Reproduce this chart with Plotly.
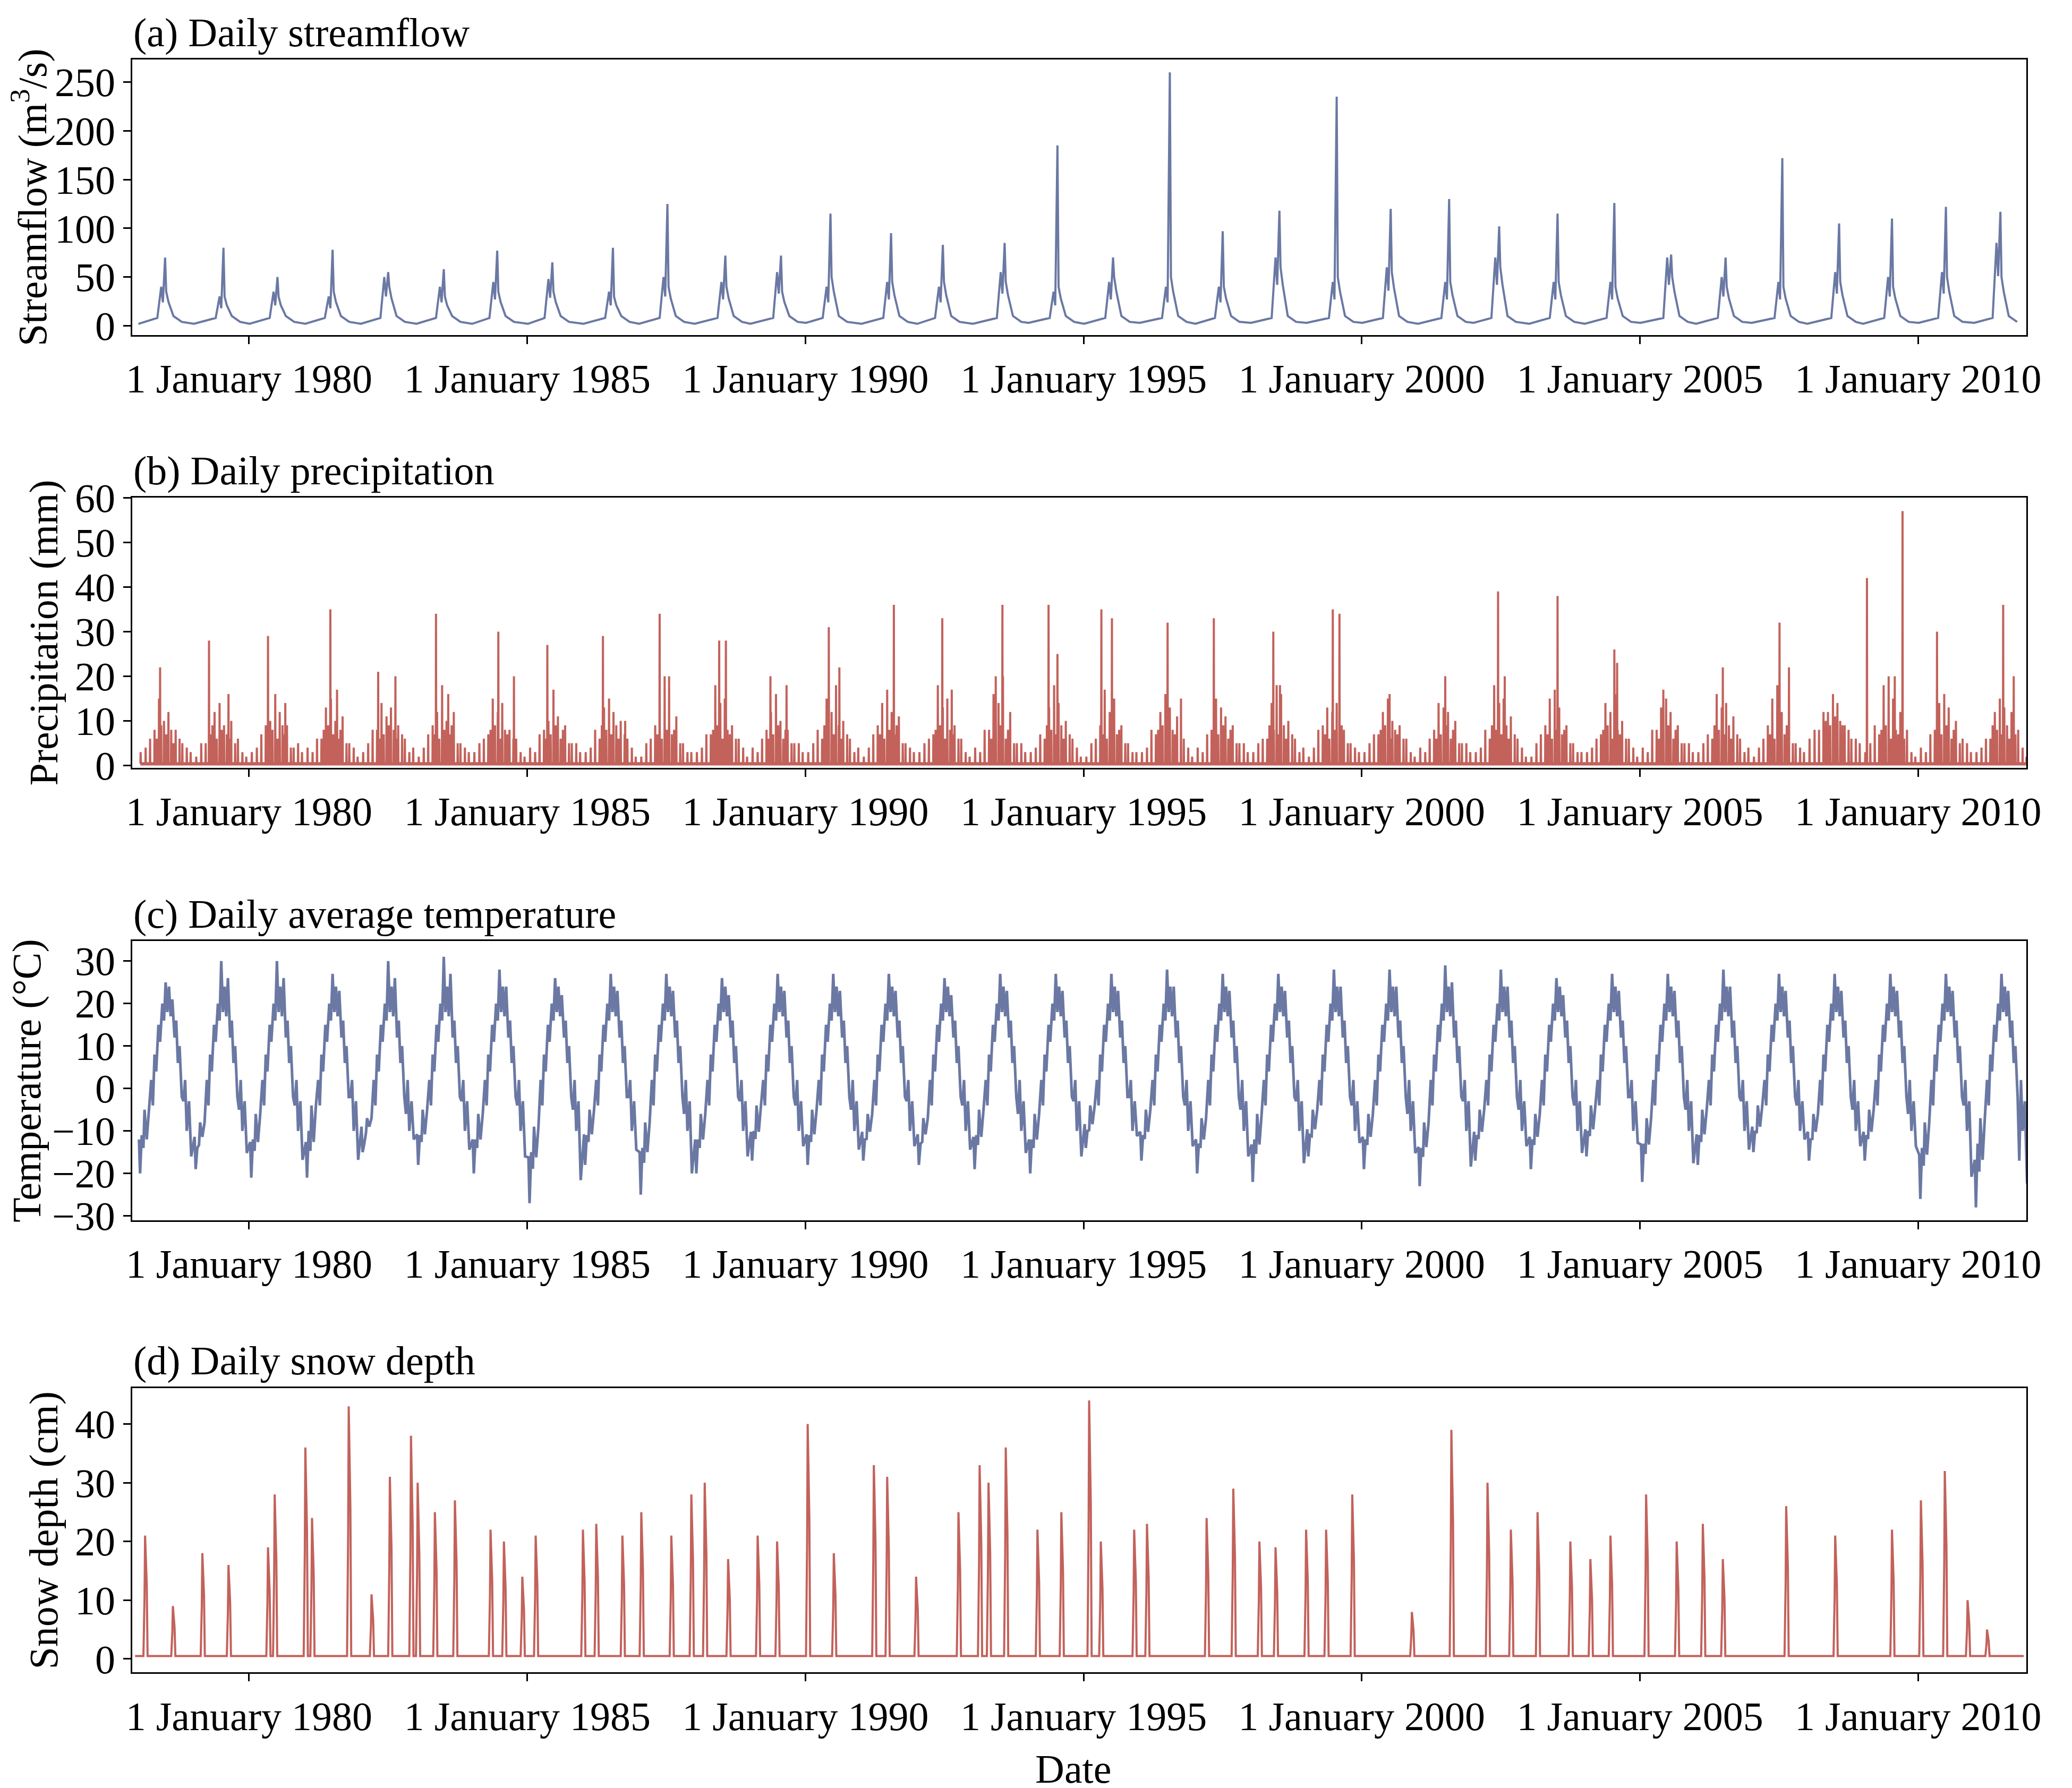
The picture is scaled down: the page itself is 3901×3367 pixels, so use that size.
import plotly.graph_objects as go
import pandas as pd

# ---------------- data ----------------
years = list(range(1978, 2012))
sf_peak_t = [1978.49,1979.54,1980.51,1981.50,1982.50,1983.50,1984.46,1985.45,1986.54,1987.52,
             1988.56,1989.56,1990.45,1991.54,1992.47,1993.58,1994.53,1995.53,1996.55,1997.50,
             1998.52,1999.55,2000.52,2001.57,2002.47,2003.52,2004.54,2005.56,2006.54,2007.56,
             2008.58,2009.53,2010.50,2011.48]
sf_peak_v = [70,80,50,78,55,58,77,65,80,125,72,72,115,95,83,85,185,70,260,97,
             118,235,120,130,102,115,126,73,70,172,105,110,122,117]
sf_pre_v  = [40,30,35,30,50,40,45,48,35,50,45,55,40,45,40,55,35,45,40,40,
             70,45,60,45,70,45,45,70,50,45,55,50,55,85]
sf_post_v = [35,30,30,35,40,30,35,35,30,40,40,35,50,45,45,45,40,50,50,40,
             60,50,55,45,60,45,40,50,40,40,45,40,50,50]
sf_base_v = [2,2,2,2,2,2,2,2,2,2,2,2,3,2,2,2,3,2,3,2,3,3,3,2,3,2,2,3,2,3,2,2,3,3]

t_min = [-20,-19,-21,-21,-15,-18,-20,-27,-18,-25,-20,-17,-18,-17,-18,-19,-20,-14,-17,-20,
         -22,-16,-19,-23,-17,-19,-16,-22,-18,-15,-17,-17,-26,-28]
t_spr = [-5,-8,-6,-4,-7,-5,-6,-9,-5,-8,-6,-4,-5,-6,-7,-5,-6,-4,-5,-7,-6,-5,-6,-8,-5,-6,-4,-7,-5,-4,-6,-5,-8,-7]
t_max = [25,30,30,27,30,31,28,26,27,27,26,27,27,27,26,27,27,27,28,27,
         27,28,28,29,28,26,27,27,28,27,27,27,27,27]
t_aut = [-3,-5,-4,-2,-6,-3,-4,-5,-2,-6,-3,-4,-5,-3,-4,-6,-3,-2,-4,-5,-3,-4,-6,-3,-5,-4,-2,-5,-3,-4,-5,-6,-4,-17]

p_big_t = [1978.40,1979.28,1979.63,1980.34,1980.65,1981.46,1981.58,1982.32,1982.63,1983.36,1983.58,
           1984.48,1984.76,1985.36,1986.36,1986.76,1987.38,1987.47,1988.45,1988.57,1989.37,1989.66,
           1990.42,1990.61,1991.59,1992.46,1992.63,1993.42,1993.54,1994.37,1994.53,1995.32,1995.51,
           1996.51,1996.75,1997.34,1998.41,1998.53,1999.48,1999.60,2000.50,2001.50,2002.45,2002.57,
           2003.52,2004.54,2004.59,2005.42,2006.49,2007.51,2007.68,2009.08,2009.58,2009.72,2010.34,
           2011.53,2011.72]
p_big_v = [22,28,16,29,14,35,17,21,20,34,16,30,20,27,29,10,34,20,28,28,20,18,31,22,36,33,17,20,36,
           36,25,35,33,32,15,33,30,18,35,34,16,20,39,20,38,26,23,17,22,32,22,42,20,57,30,36,20]
p_small_frac = [0.22,0.38,0.47,0.55,0.68,0.80]
p_small_v = [
 [6,15,10,12,8,5],[5,12,14,9,10,6],[7,10,16,12,9,4],[6,13,15,10,11,5],[8,14,11,13,9,6],
 [7,12,18,10,12,5],[6,15,12,14,8,6],[7,10,17,11,9,5],[8,13,15,12,10,6],[6,16,12,20,11,5],
 [7,18,14,15,9,6],[6,12,16,10,8,5],[8,15,12,18,10,6],[7,14,17,12,11,5],[6,18,13,15,9,6],
 [8,16,14,20,12,5],[7,13,18,14,10,6],[6,17,12,15,9,5],[8,12,16,13,11,6],[7,15,13,11,9,5],
 [6,14,18,16,10,6],[8,13,12,14,8,5],[7,12,15,10,9,6],[6,14,13,12,10,5],[8,18,14,15,11,6],
 [7,15,17,13,9,5],[6,14,12,16,10,6],[8,13,15,12,9,5],[7,16,13,14,11,6],[6,15,18,12,10,5],
 [8,12,16,14,9,6],[9,18,20,15,12,8],[7,14,16,13,10,6],[6,12,15,13,12,8]]
p_tiny_frac = [0.05,0.14,0.30,0.34,0.42,0.51,0.60,0.64,0.75,0.88,0.95]
p_tiny_v = [
 [3,4,8,6,9,7,8,5,6,4,3],[2,5,7,9,6,8,7,6,5,3,2],[3,4,9,7,8,6,9,7,4,5,3],[4,3,6,8,9,7,6,8,5,4,2],
 [3,5,8,6,7,9,8,6,7,3,4],[2,4,9,7,6,8,7,9,5,4,3],[3,5,7,8,9,6,8,7,6,3,2],[4,3,8,6,7,9,6,8,5,5,3],
 [3,4,6,9,8,7,9,6,7,4,2],[2,5,9,7,6,8,7,8,5,3,3],[3,4,7,8,9,6,8,7,6,4,2],[4,3,8,6,7,9,6,8,5,5,3],
 [3,5,6,9,8,7,9,6,7,3,4],[2,4,9,7,6,8,7,9,5,4,3],[3,5,7,8,9,6,8,7,6,3,2],[4,3,8,6,7,9,6,8,5,5,3],
 [3,4,6,9,8,7,9,6,7,4,2],[2,5,9,7,6,8,7,8,5,3,3],[3,4,7,8,9,6,8,7,6,4,2],[4,3,8,6,7,9,6,8,5,5,3],
 [3,5,6,9,8,7,9,6,7,3,4],[2,4,9,7,6,8,7,9,5,4,3],[3,5,7,8,9,6,8,7,6,3,2],[4,3,8,6,7,9,6,8,5,5,3],
 [3,4,6,9,8,7,9,6,7,4,2],[2,5,9,7,6,8,7,8,5,3,3],[3,4,7,8,9,6,8,7,6,4,2],[4,3,8,6,7,9,6,8,5,5,3],
 [3,5,6,9,8,7,9,6,7,3,4],[2,4,9,7,6,8,7,9,5,4,3],[6,8,12,10,9,11,10,9,8,6,5],[3,5,7,8,9,6,8,7,6,3,2],
 [4,3,8,6,7,9,6,8,5,5,3],[3,4,6,9,8,7,9,6,7,4,2]]

s_t = [1978.13,1978.63,1979.16,1979.63,1980.34,1980.46,1981.01,1981.13,1981.79,1982.20,1982.53,
       1982.91,1983.03,1983.34,1983.70,1984.34,1984.58,1984.91,1985.15,1986.00,1986.24,1986.71,
       1987.05,1987.59,1987.95,1988.19,1988.61,1989.14,1989.49,1990.04,1990.51,1991.23,1991.47,
       1991.99,1992.75,1993.13,1993.29,1993.60,1994.17,1994.60,1995.10,1995.31,1995.91,1996.14,
       1997.21,1997.69,1998.16,1998.45,1999.00,1999.36,1999.83,2000.90,2001.61,2002.26,2002.68,
       2003.16,2003.75,2004.11,2004.47,2005.11,2005.66,2006.13,2006.49,2007.63,2008.51,2009.53,
       2010.05,2010.48,2010.89,2011.24]
s_v = [21,9,18,16,19,28,36,24,43,11,31,38,30,25,27,22,20,14,21,22,23,21,25,21,28,30,17,21,20,40,
       18,33,31,14,25,33,30,36,22,25,44,20,22,23,24,29,20,19,22,22,28,8,39,30,22,25,20,17,21,28,
       20,23,17,26,21,22,27,32,10,5]

tick_years = [1980, 1985, 1990, 1995, 2000, 2005, 2010]
tick_text = [f"1 January {y}" for y in tick_years]

# ---------------- helpers ----------------
def dy(t):
    y = int(t)
    start = pd.Timestamp(year=y, month=1, day=1)
    end = pd.Timestamp(year=y + 1, month=1, day=1)
    return start + (end - start) * (t - y)

sf_x, sf_y = [], []
for i, y in enumerate(years):
    pt = sf_peak_t[i]
    for t, v in [(y + 0.01, sf_base_v[i]), (pt - 0.14, 8), (pt - 0.07, sf_pre_v[i]), (pt - 0.04, sf_pre_v[i] * 0.6),
                 (pt, sf_peak_v[i]), (pt + 0.02, sf_post_v[i]), (pt + 0.06, sf_post_v[i] * 0.7),
                 (pt + 0.15, 10), (pt + 0.3, 4)]:
        sf_x.append(dy(t)); sf_y.append(v)

t_x, t_y = [], []
for i, y in enumerate(years):
    for t, v in [(y + 0.02, t_min[i] * 0.6), (y + 0.04, t_min[i]), (y + 0.07, t_spr[i] - 6), (y + 0.1, t_min[i] * 0.7),
                 (y + 0.12, t_spr[i]), (y + 0.16, t_min[i] * 0.6), (y + 0.2, t_spr[i]), (y + 0.24, 2),
                 (y + 0.27, -4), (y + 0.3, 8), (y + 0.33, 4), (y + 0.37, 15), (y + 0.4, 11), (y + 0.44, 20),
                 (y + 0.47, 16), (y + 0.5, t_max[i]), (y + 0.53, 18), (y + 0.56, 24), (y + 0.59, 17),
                 (y + 0.62, t_max[i] - 4), (y + 0.66, 12), (y + 0.69, 16), (y + 0.72, 6), (y + 0.75, 10),
                 (y + 0.79, -2), (y + 0.82, t_aut[i]), (y + 0.85, 2), (y + 0.88, -10), (y + 0.92, -3),
                 (y + 0.96, t_min[i] * 0.8)]:
        t_x.append(dy(t)); t_y.append(v)

p_x, p_y = [], []
events = [(t, v) for t, v in zip(p_big_t, p_big_v)]
for i, y in enumerate(years):
    for f, v in zip(p_small_frac, p_small_v[i]):
        events.append((y + f, v))
    for f, v in zip(p_tiny_frac, p_tiny_v[i]):
        events.append((y + f, v))
events.sort()
for t, v in events:
    p_x += [dy(t - 0.004), dy(t), dy(t + 0.004)]
    p_y += [0.5, v, 0.5]

s_x, s_y = [dy(1977.95)], [0.5]
for t, v in zip(s_t, s_v):
    s_x += [dy(t - 0.03), dy(t - 0.01), dy(t), dy(t + 0.03), dy(t + 0.045)]
    s_y += [0.5, v * 0.5, v, v * 0.6, 0.5]
s_x.append(dy(2011.9)); s_y.append(0.5)

# ---------------- figure ----------------
BLUE = "#6a78a3"
RED = "#c2625b"
FONT = "Liberation Serif"

fig = go.Figure()
fig.add_trace(go.Scatter(x=sf_x, y=sf_y, mode="lines", line=dict(color=BLUE, width=4), xaxis="x", yaxis="y"))
fig.add_trace(go.Scatter(x=p_x, y=p_y, mode="lines", line=dict(color=RED, width=4), fill="tozeroy",
                         fillcolor=RED, xaxis="x2", yaxis="y2"))
fig.add_trace(go.Scatter(x=t_x, y=t_y, mode="lines", line=dict(color=BLUE, width=5), xaxis="x3", yaxis="y3"))
fig.add_trace(go.Scatter(x=s_x, y=s_y, mode="lines", line=dict(color=RED, width=4), xaxis="x4", yaxis="y4"))

xr = [dy(1977.9), dy(2011.95)]
doms = [(0.815, 0.969), (0.573, 0.724), (0.320, 0.476), (0.067, 0.226)]
yranges = [[-9.5, 273], [-0.5, 60], [-31, 34.7], [-2.3, 46.1]]
ytv = [[0, 50, 100, 150, 200, 250], [0, 10, 20, 30, 40, 50, 60], [-30, -20, -10, 0, 10, 20, 30], [0, 10, 20, 30, 40]]
ytitles = ["Streamflow (m<sup>3</sup>/s)", "Precipitation (mm)", "Temperature (°C)", "Snow depth (cm)"]
ptitles = ["(a) Daily streamflow", "(b) Daily precipitation", "(c) Daily average temperature", "(d) Daily snow depth"]

FS = 76
axcommon = dict(showline=True, linecolor="black", linewidth=3, mirror=True, ticks="outside",
                ticklen=14, tickwidth=3, tickcolor="black", showgrid=False, zeroline=False,
                automargin=False, tickfont=dict(family=FONT, size=FS, color="black"))
layout = dict(width=3901, height=3367, margin=dict(l=0, r=0, t=0, b=0, autoexpand=False),
              paper_bgcolor="white", plot_bgcolor="white", showlegend=False,
              font=dict(family=FONT, color="black"))
annotations = []
for i in range(4):
    sx = "" if i == 0 else str(i + 1)
    layout["xaxis" + sx] = dict(axcommon, domain=[0.0618, 0.976], range=xr, anchor="y" + sx,
                                tickvals=[dy(y) for y in tick_years], ticktext=tick_text)
    layout["yaxis" + sx] = dict(axcommon, domain=list(doms[i]), range=yranges[i], anchor="x" + sx,
                                tickvals=ytv[i],
                                title=dict(text=ytitles[i], font=dict(family=FONT, size=FS), standoff=8))
    annotations.append(dict(text=ptitles[i], xref="paper", yref="paper", x=0.0618, y=doms[i][1] + 0.002,
                            xanchor="left", yanchor="bottom", showarrow=False,
                            font=dict(family=FONT, size=FS, color="black")))
annotations.append(dict(text="Date", xref="paper", yref="paper", x=0.516, y=0.0, xanchor="center",
                        yanchor="bottom", showarrow=False, font=dict(family=FONT, size=FS, color="black")))
layout["annotations"] = annotations
fig.update_layout(**layout)
fig.write_html("out.html")
